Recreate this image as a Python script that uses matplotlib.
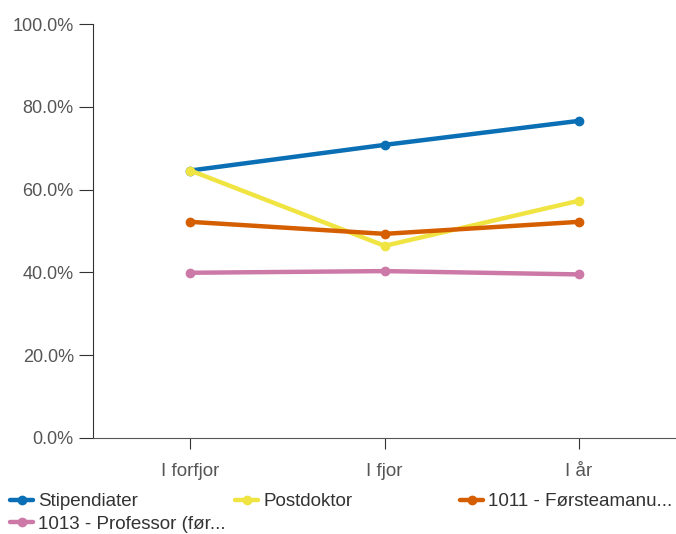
import matplotlib.pyplot as plt
from matplotlib.ticker import FuncFormatter

categories = ['I forfjor', 'I fjor', 'I år']
series_names = ['Stipendiater', 'Postdoktor', '1011 - Førsteamanu...', '1013 - Professor (før...']
stipendiater = [64.6, 70.8, 76.6]
postdoktor = [64.6, 46.4, 57.3]
forsteamanu = [52.2, 49.3, 52.2]
professor = [39.9, 40.3, 39.5]
colors = ['#0a6fb4', '#f0e442', '#d55e00', '#cc79a7']

plt.rcParams['font.family'] = ['Liberation Sans', 'DejaVu Sans']

fig = plt.figure(figsize=(6.76, 5.34), dpi=100)
ax = fig.add_axes([0.138, 0.18, 0.862, 0.775])

x = range(len(categories))
lines = []
for vals, name, c in zip([stipendiater, postdoktor, forsteamanu, professor], series_names, colors):
    ln, = ax.plot(x, vals, color=c, lw=3.2, marker='o', ms=6, label=name, solid_capstyle='round')
    lines.append(ln)

ax.set_xlim(-0.5, 2.5)
ax.set_ylim(0, 100)
ax.set_yticks([0, 20, 40, 60, 80, 100])
ax.yaxis.set_major_formatter(FuncFormatter(lambda v, p: f'{v:.1f}%'))
ax.set_xticks(list(x))
ax.set_xticklabels(categories)

for s in ['top', 'right']:
    ax.spines[s].set_visible(False)
ax.spines['left'].set_color('#333333')
ax.spines['bottom'].set_color('#555555')
ax.tick_params(axis='y', length=10, color='#333333', labelcolor='#555555', labelsize=13, pad=4)
ax.tick_params(axis='x', length=8, color='#333333', labelcolor='#555555', labelsize=13.5, pad=10)

# legend laid out row-wise in three fixed columns
groups = [([lines[0], lines[3]], 10), ([lines[1]], 235), ([lines[2]], 460)]
for hs, px in groups:
    fig.legend(hs, [h.get_label() for h in hs], loc='upper left',
               bbox_to_anchor=(px / 676, 1 - 493 / 534), frameon=False,
               fontsize=13.5, labelcolor='#333333', handlelength=1.25,
               handletextpad=0.25, borderaxespad=0, borderpad=0, labelspacing=0.3)

fig.savefig('out.png', dpi=100)
